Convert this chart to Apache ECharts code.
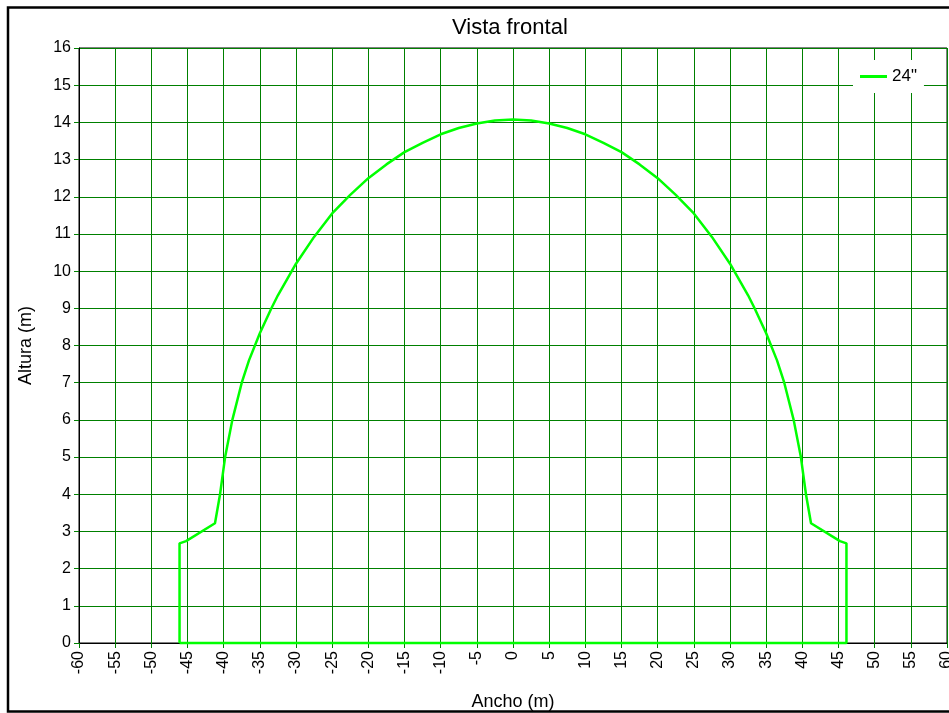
<!DOCTYPE html>
<html>
<head>
<meta charset="utf-8">
<script src="https://cdn.jsdelivr.net/npm/echarts@6/dist/echarts.min.js"></script>
<style>
html,body{margin:0;padding:0;background:#fff;}
#chart{width:949px;height:713px;}
</style>
</head>
<body>
<div id="chart"></div>
<script>
const chartTitle = 'Vista frontal';
const xAxisName = 'Ancho (m)';
const yAxisName = 'Altura (m)';
const seriesName = '24"';
// Outline of the frontal view (closed polyline)
const outlineX = [-46.1, -46.1, -45.2, -41.2, -40.5, -39.8, -38.8, -37.5, -36.5, -35, -33.4, -32.5, -30, -27.5, -25, -22.5, -20, -17.5, -15, -12.5, -10, -7.5, -5, -2.5, 0, 2.5, 5, 7.5, 10, 12.5, 15, 17.5, 20, 22.5, 25, 27.5, 30, 32.5, 33.4, 35, 36.5, 37.5, 38.8, 39.8, 40.5, 41.2, 45.2, 46.1, 46.1, -46.1];
const outlineY = [0, 2.68, 2.74, 3.22, 4, 5, 6, 7, 7.6, 8.33, 9, 9.35, 10.2, 10.92, 11.55, 12.05, 12.5, 12.87, 13.2, 13.45, 13.68, 13.85, 13.97, 14.05, 14.08, 14.05, 13.97, 13.85, 13.68, 13.45, 13.2, 12.87, 12.5, 12.05, 11.55, 10.92, 10.2, 9.35, 9, 8.33, 7.6, 7, 6, 5, 4, 3.22, 2.74, 2.68, 0, 0];
const xMin = -60, xMax = 60, xStep = 5;
const yMin = 0, yMax = 16, yStep = 1;

const FONT = "'Liberation Sans', Arial, sans-serif";
const data = outlineX.map((x, i) => [x, outlineY[i]]);
const chart = echarts.init(document.getElementById('chart'), null, {renderer: 'canvas'});
chart.setOption({
  backgroundColor: '#ffffff',
  animation: false,
  textStyle: {fontFamily: FONT},
  title: {
    text: chartTitle,
    left: 452, top: 17, padding: 0,
    textStyle: {fontSize: 22, fontWeight: 'normal', color: '#000', fontFamily: FONT}
  },
  legend: {
    left: 853, top: 60,
    padding: [8, 7],
    backgroundColor: '#ffffff',
    itemWidth: 27, itemHeight: 3, icon: 'rect',
    textStyle: {fontSize: 17, color: '#000', fontFamily: FONT},
    data: [seriesName]
  },
  grid: {
    left: 79, top: 48, right: 2, bottom: 70,
    outerBoundsMode: 'none',
    containLabel: false,
    show: true, borderColor: '#000', borderWidth: 1, backgroundColor: 'transparent'
  },
  xAxis: {
    type: 'value', min: xMin, max: xMax, interval: xStep,
    name: xAxisName, nameLocation: 'middle', nameGap: 50,
    nameTextStyle: {fontSize: 18, color: '#000', fontFamily: FONT},
    axisLine: {show: true, onZero: false, lineStyle: {color: '#000', width: 1}},
    axisTick: {show: true, length: 5, lineStyle: {color: '#008000'}},
    axisLabel: {rotate: 90, fontSize: 16, color: '#000', margin: 8, fontFamily: FONT},
    splitLine: {show: true, lineStyle: {color: '#008000', width: 1}}
  },
  yAxis: {
    type: 'value', min: yMin, max: yMax, interval: yStep,
    name: yAxisName, nameLocation: 'middle', nameGap: 44,
    nameTextStyle: {fontSize: 18, color: '#000', fontFamily: FONT},
    axisLine: {show: true, onZero: false, lineStyle: {color: '#000', width: 1}},
    axisTick: {show: true, length: 5, lineStyle: {color: '#008000'}},
    axisLabel: {fontSize: 16, color: '#000', margin: 8, fontFamily: FONT},
    splitLine: {show: true, lineStyle: {color: '#008000', width: 1}}
  },
  series: [{
    name: seriesName,
    type: 'line',
    data: data,
    symbol: 'none',
    clip: false,
    color: '#00ff00',
    lineStyle: {color: '#00ff00', width: 2.5},
    z: 5
  }],
  graphic: [{
    type: 'rect',
    shape: {x: 8, y: 7.5, width: 990, height: 704},
    style: {fill: 'none', stroke: '#000', lineWidth: 2.5},
    silent: true, z: 100
  }]
});
</script>
</body>
</html>
